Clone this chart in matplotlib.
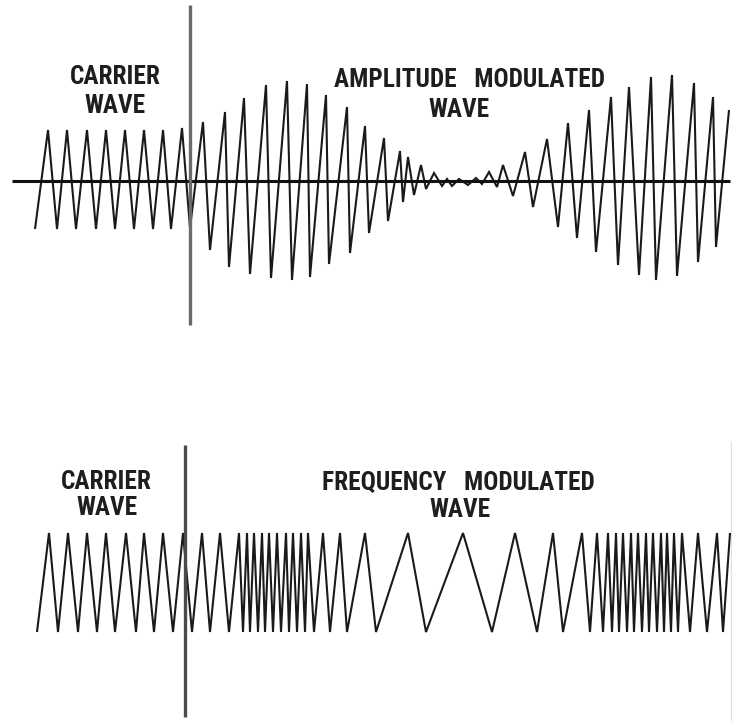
import numpy as np
import matplotlib
matplotlib.use("Agg")
import matplotlib.pyplot as plt
from matplotlib import font_manager
from matplotlib.font_manager import FontProperties

# ---------------- data (arbitrary time / amplitude units) -------------
# Top panel: unmodulated carrier followed by the amplitude modulated wave (vertices of the zigzag)
carrier_am_t = [35, 48, 57, 67, 76, 87, 96, 106, 115, 125, 134, 144, 153, 163, 171, 182, 190]
carrier_am_amp = [-48, 51, -48, 51, -48, 51, -48, 51, -48, 51, -48, 51, -48, 51, -48, 53, -47]

am_t = [203, 210, 225, 229, 244, 250, 266, 271, 287, 292, 307, 310, 326, 329, 347, 350,
        365, 369, 384, 388, 400, 403, 408, 414, 421, 426, 434, 442, 447, 452, 459, 468,
        476, 482, 489, 497, 503, 513, 525, 533, 547, 558, 568, 577, 589, 596, 611, 618,
        629, 639, 651, 656, 672, 677, 694, 698, 713, 716, 729]
am_amp = [59, -69, 69, -86, 83, -93, 96, -97, 100, -99, 97, -96, 86, -83, 74, -72,
          55, -52, 43, -40, 30, -21, 24, -14, 16, -8, 8, -5, 2, -5, 2, -4,
          3, -3, 9, -6, 16, -15, 29, -26, 42, -46, 58, -57, 71, -71, 84, -84,
          94, -94, 104, -99, 106, -95, 98, -81, 84, -66, 71]

# Bottom panel: carrier followed by the frequency modulated wave (constant amplitude)
fm_amplitude = 49.5
fm_peak_t = [49, 68, 87, 106, 126, 144, 163, 183, 202, 220, 239, 247, 254, 262, 269, 277,
             286, 293, 301, 308, 323, 340, 365, 408, 463, 515, 553, 582, 597, 608, 616, 623,
             631, 638, 646, 653, 661, 667, 674, 682, 698, 717, 730]
fm_trough_t = [37, 58, 78, 97, 115, 136, 154, 173, 192, 210, 229, 243, 250, 258, 265, 273,
               281, 289, 297, 305, 314, 330, 347, 376, 426, 492, 537, 563, 590, 603, 612, 619,
               627, 634, 642, 649, 657, 664, 671, 678, 690, 707, 723]

am_switch_t = 190     # where the carrier ends (top)
fm_switch_t = 185     # where the carrier ends (bottom)

labels_top = ["CARRIER", "WAVE", "AMPLITUDE   MODULATED", "WAVE"]
labels_bot = ["CARRIER", "WAVE", "FREQUENCY   MODULATED", "WAVE"]


# ---------------- pick a bold condensed face if one is installed ----------------------------
def pick_font():
    prefs = ["Liberation Sans Narrow", "Roboto Condensed", "Open Sans Condensed",
             "DejaVu Sans Condensed", "Noto Sans Condensed"]
    cands = []
    for f in font_manager.fontManager.ttflist:
        w = f.weight if isinstance(f.weight, int) else (700 if "bold" in str(f.weight).lower() else 400)
        narrow = ("Narrow" in f.name or "Condensed" in f.name or
                  str(f.stretch) in ("condensed", "semi-condensed", "extra-condensed") or
                  "Condensed" in f.fname or "Narrow" in f.fname)
        if narrow and w >= 600 and "Italic" not in f.fname and "Oblique" not in f.fname \
                and str(f.style) == "normal":
            rank = len(prefs)
            for i, p in enumerate(prefs):
                if p.split()[0] in f.name:
                    rank = i
                    break
            cands.append((rank, f.fname))
    if cands:
        cands.sort()
        return FontProperties(fname=cands[0][1])
    return FontProperties(family=["Liberation Sans", "DejaVu Sans"], weight="bold")


fp = pick_font()

# ---------------- figure -------------------------------------------------------------------
W, H = 732, 721
fig = plt.figure(figsize=(W / 100, H / 100), dpi=100)
fig.patch.set_facecolor("white")

# size the font so that "CARRIER" is about as wide as in the reference (~91 px)
probe = fig.text(0, 0, "CARRIER", fontproperties=fp, fontsize=17)
fig.canvas.draw()
pw = probe.get_window_extent().width
probe.remove()
fsize = min(19.0, 17 * 91.0 / pw)

top_h = 360
ax1 = fig.add_axes([0, 1 - top_h / H, 1, top_h / H])
ax2 = fig.add_axes([0, 0, 1, (H - top_h) / H])
for ax in (ax1, ax2):
    ax.set_axis_off()
    ax.set_xlim(0, W)

ax1.set_ylim(-179, 181)
ax2.set_ylim(-138.5, 222.5)

wave_kw = dict(color="#1a1a1a", lw=1.5, solid_joinstyle="miter", solid_capstyle="butt")
font_kw = dict(fontproperties=fp, fontsize=fsize, color="#1e1e1e", ha="center", va="center")

# ---- top: AM ----
t_top = np.concatenate([carrier_am_t, am_t])
a_top = np.concatenate([carrier_am_amp, am_amp])
ax1.hlines(0, 12, 730, color="#111111", lw=2.2, zorder=3)
ax1.plot(t_top, a_top, zorder=2, **wave_kw)
ax1.vlines(am_switch_t, -144, 176, color="#6a6a6a", lw=2.4, zorder=4)

ax1.text(115, 104, labels_top[0], **font_kw)
ax1.text(115, 75, labels_top[1], **font_kw)
ax1.text(469, 101, labels_top[2], **font_kw)
ax1.text(459, 71, labels_top[3], **font_kw)

# ---- bottom: FM ----
t_fm = np.concatenate([fm_trough_t, fm_peak_t])
a_fm = np.concatenate([np.full(len(fm_trough_t), -fm_amplitude),
                       np.full(len(fm_peak_t), fm_amplitude)])
order = np.argsort(t_fm, kind="stable")
ax2.plot(t_fm[order], a_fm[order], zorder=2, **wave_kw)
ax2.vlines(fm_switch_t, -134.5, 137.5, color="#4a4a4a", lw=2.4, zorder=4)
ax2.vlines(731, -138, 142, color="#e2e2e2", lw=1.0, zorder=1)

ax2.text(106, 100.5, labels_bot[0], **font_kw)
ax2.text(107, 74.5, labels_bot[1], **font_kw)
ax2.text(458, 99.5, labels_bot[2], **font_kw)
ax2.text(460, 72.5, labels_bot[3], **font_kw)

fig.savefig("out.png", dpi=100, facecolor="white")
